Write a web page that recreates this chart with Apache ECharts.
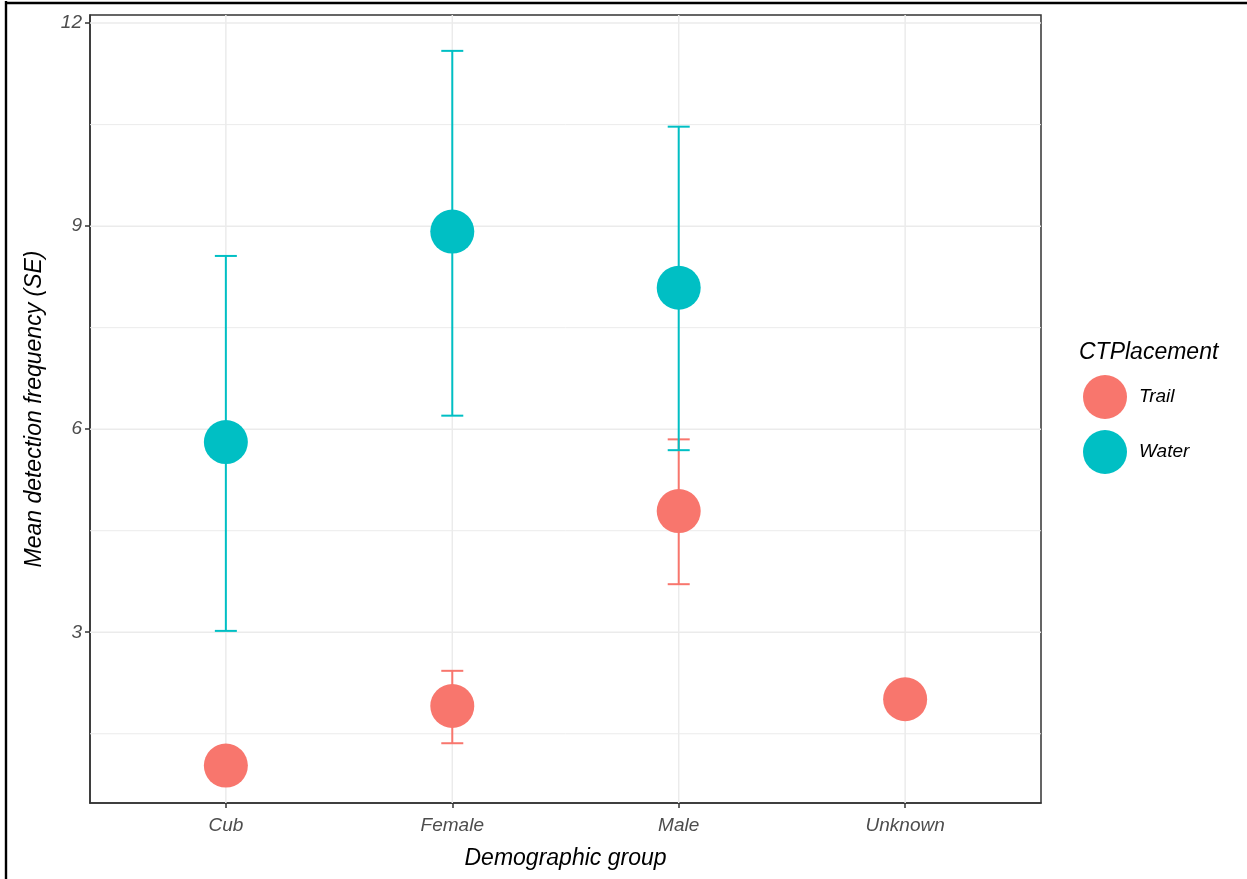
<!DOCTYPE html>
<html>
<head>
<meta charset="utf-8">
<script src="https://cdn.jsdelivr.net/npm/echarts@6/dist/echarts.min.js"></script>
<style>html,body{margin:0;padding:0;background:#fff}#c{width:1247px;height:879px}</style>
</head>
<body>
<div id="c"></div>
<script>
const categories = ['Cub', 'Female', 'Male', 'Unknown'];
const trailMean = [1.03, 1.91, 4.79, 2.01];
const trailLow  = [null, 1.36, 3.71, null];
const trailHigh = [null, 2.43, 5.85, null];
const waterMean = [5.81, 8.92, 8.09, null];
const waterLow  = [3.02, 6.20, 5.69, null];
const waterHigh = [8.56, 11.59, 10.47, null];
const yTicks = [3, 6, 9, 12];
const yMinor = [1.5, 4.5, 7.5, 10.5];

const TRAIL = '#F8766D', WATER = '#00BFC4';
const FONT = '"Liberation Sans", Arial, sans-serif';

function pts(means) {
  const out = [];
  means.forEach((v, i) => { if (v != null) out.push([i + 1, v]); });
  return out;
}
function errs(lo, hi) {
  const out = [];
  lo.forEach((v, i) => { if (v != null && hi[i] != null) out.push([i + 1, v, hi[i]]); });
  return out;
}
function errRender(color) {
  return function (params, api) {
    const x = api.value(0), lo = api.value(1), hi = api.value(2);
    const a = api.coord([x, lo]), b = api.coord([x, hi]);
    const w = 11;
    const st = { stroke: color, lineWidth: 2 };
    return {
      type: 'group',
      children: [
        { type: 'line', shape: { x1: a[0], y1: a[1], x2: b[0], y2: b[1] }, style: st },
        { type: 'line', shape: { x1: a[0] - w, y1: a[1], x2: a[0] + w, y2: a[1] }, style: st },
        { type: 'line', shape: { x1: b[0] - w, y1: b[1], x2: b[0] + w, y2: b[1] }, style: st }
      ]
    };
  };
}
// grid line data: [orientation (0 = horizontal, 1 = vertical), value, major flag]
const gridData = [];
yMinor.forEach(v => gridData.push([0, v, 0]));
yTicks.forEach(v => gridData.push([0, v, 1]));
categories.forEach((c, i) => gridData.push([1, i + 1, 1]));

function gridRender(params, api) {
  const cs = params.coordSys;
  const o = api.value(0), v = api.value(1), major = api.value(2);
  const st = { stroke: '#EBEBEB', lineWidth: major ? 1.5 : 1 };
  if (o === 0) {
    const p = api.coord([1, v]);
    return { type: 'line', shape: { x1: cs.x, y1: p[1], x2: cs.x + cs.width, y2: p[1] }, style: st };
  }
  const p = api.coord([v, 6]);
  return { type: 'line', shape: { x1: p[0], y1: cs.y, x2: p[0], y2: cs.y + cs.height }, style: st };
}

const chart = echarts.init(document.getElementById('c'), null, { renderer: 'canvas' });
chart.setOption({
  animation: false,
  backgroundColor: '#fff',
  grid: { left: 90, right: 206, top: 15, bottom: 76, show: true, borderColor: '#333', borderWidth: 1.5, backgroundColor: '#fff' },
  xAxis: {
    type: 'value', min: 0.4, max: 4.6,
    name: 'Demographic group', nameLocation: 'middle', nameGap: 44,
    nameTextStyle: { fontFamily: FONT, fontStyle: 'italic', fontSize: 23, color: '#000' },
    axisLine: { show: true, lineStyle: { color: '#333', width: 1.5 } },
    axisTick: { show: true, customValues: [1, 2, 3, 4], length: 5, lineStyle: { color: '#333', width: 1.5 } },
    axisLabel: { customValues: [1, 2, 3, 4], margin: 13, fontFamily: FONT, fontStyle: 'italic', fontSize: 19, color: '#4D4D4D',
      formatter: v => categories[Math.round(v) - 1] || '' },
    splitLine: { show: false }
  },
  yAxis: {
    type: 'value', min: 0.477, max: 12.12,
    name: 'Mean detection frequency (SE)', nameLocation: 'middle', nameGap: 44, nameRotate: 90,
    nameTextStyle: { fontFamily: FONT, fontStyle: 'italic', fontSize: 23, color: '#000' },
    axisLine: { show: true, lineStyle: { color: '#333', width: 1.5 } },
    axisTick: { show: true, customValues: yTicks, length: 5, lineStyle: { color: '#333', width: 1.5 } },
    axisLabel: { customValues: yTicks, margin: 8, fontFamily: FONT, fontStyle: 'italic', fontSize: 19, color: '#4D4D4D' },
    splitLine: { show: false }
  },
  legend: {
    orient: 'vertical', left: 1083, top: 375, itemWidth: 44, itemHeight: 44, itemGap: 11, padding: 0,
    data: [{ name: 'Trail', icon: 'circle' }, { name: 'Water', icon: 'circle' }],
    textStyle: { fontFamily: FONT, fontStyle: 'italic', fontSize: 19, color: '#000', padding: [0, 0, 0, 7] }
  },
  graphic: [
    { type: 'text', left: 1079, top: 341, style: { text: 'CTPlacement', font: 'italic 23px ' + FONT, fill: '#000' } },
    { type: 'line', shape: { x1: 6, y1: 1, x2: 6, y2: 879 }, style: { stroke: '#000', lineWidth: 2.4 } },
    { type: 'line', shape: { x1: 5, y1: 3, x2: 1247, y2: 3 }, style: { stroke: '#000', lineWidth: 2.4 } }
  ],
  series: [
    { type: 'custom', name: 'grid', z: 1, silent: true, renderItem: gridRender, data: gridData, clip: true },
    { type: 'custom', name: 'Trail SE', z: 2, renderItem: errRender(TRAIL), data: errs(trailLow, trailHigh), encode: { x: 0, y: [1, 2] } },
    { type: 'custom', name: 'Water SE', z: 2, renderItem: errRender(WATER), data: errs(waterLow, waterHigh), encode: { x: 0, y: [1, 2] } },
    { type: 'scatter', name: 'Trail', z: 3, symbolSize: 44, itemStyle: { color: TRAIL, opacity: 1 }, data: pts(trailMean) },
    { type: 'scatter', name: 'Water', z: 3, symbolSize: 44, itemStyle: { color: WATER, opacity: 1 }, data: pts(waterMean) }
  ]
});
</script>
</body>
</html>
